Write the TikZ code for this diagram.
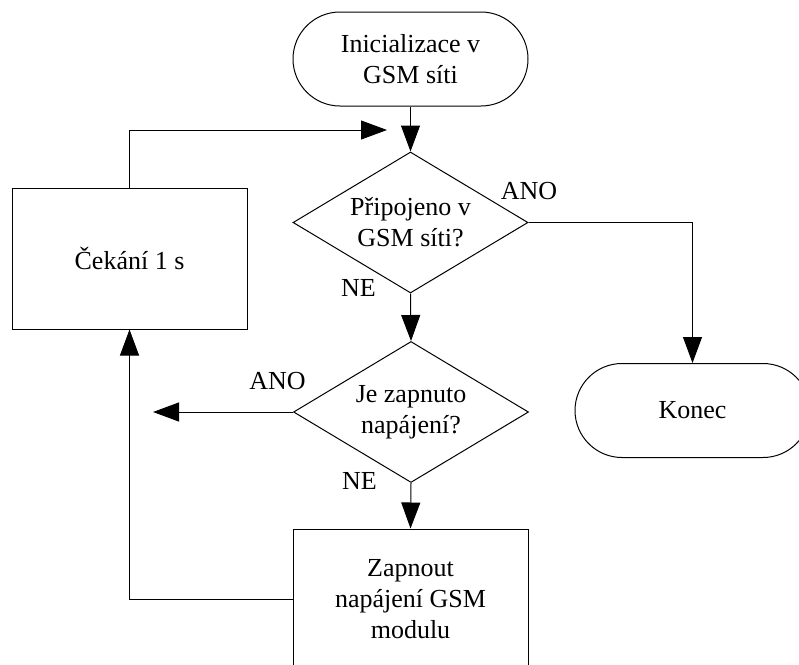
\documentclass[tikz,border=0pt]{standalone}
\usepackage{fontspec}
\setmainfont{Liberation Serif}
\usetikzlibrary{shapes.geometric,arrows.meta}
\begin{document}
\begin{tikzpicture}[x=1pt,y=-1pt,line width=1pt,
  every node/.style={font=\fontsize{26}{31}\selectfont},
  terminal/.style={draw,rectangle,rounded corners=47pt,minimum width=235pt,
    minimum height=94pt,inner sep=0pt,align=center},
  decision/.style={draw,diamond,aspect=1.667,minimum width=235pt,
    minimum height=141pt,inner sep=0pt,align=center},
  process/.style={draw,rectangle,minimum width=235pt,minimum height=141pt,
    inner sep=0pt,align=center},
  flow/.style={-{Triangle[length=26pt,width=19pt]}},
  tag/.style={inner sep=0pt}]
\useasboundingbox (0,0) rectangle (799,664);

% blocks of the flow chart
\node[terminal] (start) at (410.5,59)    {Inicializace v\\GSM síti};
\node[decision] (conn)  at (410.5,222.5) {Připojeno v\\GSM síti?};
\node[decision] (power) at (411,412)     {Je zapnuto\\napájení?};
\node[process]  (wait)  at (129.5,258.5) {Čekání 1 s};
\node[process]  (on)    at (410.5,599.5) {Zapnout\\napájení GSM\\modulu};
\node[terminal] (end)   at (692.5,410.5) {Konec};

% loose ends of the two open arrows
\coordinate (loopin) at (387,130);
\coordinate (yesout) at (153,412);

% connectors
\draw[flow] (start.south) -- (conn.north);
\draw[flow] (conn.south) -- (power.north);
\draw[flow] (power.south) -- (on.north);
\draw[flow] (conn.east) -| (end.north);
\draw[flow] (power.west) -- (yesout);
\draw[flow] (wait.north) |- (loopin);
\draw[flow] (on.west) -| (wait.south);

% branch labels
\node[tag] (ano1) at (529,191)   {ANO};
\node[tag] (ne1)  at (358.5,288) {NE};
\node[tag] (ano2) at (277.5,381) {ANO};
\node[tag] (ne2)  at (359.5,481) {NE};
\end{tikzpicture}
\end{document}
